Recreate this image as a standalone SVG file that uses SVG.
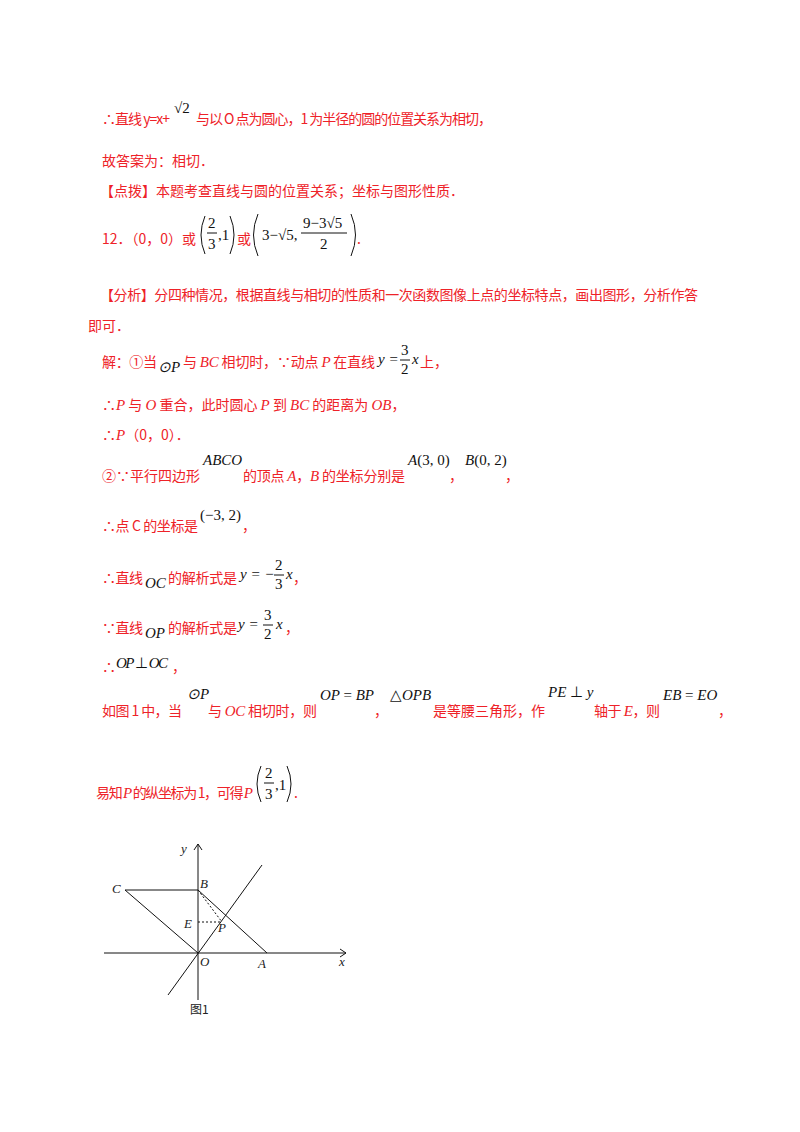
<svg xmlns="http://www.w3.org/2000/svg" width="800" height="1132" viewBox="0 0 800 1132">
<style>
.r{fill:#ee2228;font-family:"Noto Sans CJK SC","Liberation Sans",sans-serif;font-size:14px}
.m{fill:#111;font-family:"Liberation Serif",serif;font-size:15px;font-style:italic}
.n{fill:#111;font-family:"Liberation Serif",serif;font-size:15px}
.ri{fill:#ee2228;font-family:"Liberation Serif",serif;font-size:15px;font-style:italic}
.b{stroke:#111;stroke-width:1;fill:none}
.f{fill:#222;font-family:"Liberation Serif",serif;font-size:13px;font-style:italic}
</style>
<rect width="800" height="1132" fill="#fff"/>
<g id="text">
<text class="r" x="102" y="124" textLength="68">∴直线 y=x+</text>
<text class="n" x="174" y="113">√2</text>
<text class="r" x="196" y="124" textLength="296">与以 O 点为圆心，1 为半径的圆的位置关系为相切，</text>
<text class="r" x="102" y="166">故答案为：相切．</text>
<text class="r" x="100" y="196">【点拨】本题考查直线与圆的位置关系；坐标与图形性质．</text>
<text class="r" x="102" y="244" textLength="94">12．（0，0）或</text>
<path class="b" d="M205 216 Q197 235 205 254 M230 216 Q238 235 230 254 M258 214 Q249 235 258 256 M351 214 Q360 235 351 256"/>
<text class="n" x="208" y="228">2</text><line class="b" x1="207" y1="233" x2="217" y2="233"/><text class="n" x="208" y="249">3</text><text class="n" x="218" y="240">,1</text>
<text class="r" x="237" y="244">或</text>
<text class="n" x="262" y="240">3−√5,</text>
<text class="n" x="303" y="228">9−3√5</text><line class="b" x1="301" y1="233" x2="347" y2="233"/><text class="n" x="320" y="249">2</text>
<text class="r" x="357" y="244">.</text>
<text class="r" x="100" y="300" textLength="598">【分析】分四种情况，根据直线与相切的性质和一次函数图像上点的坐标特点，画出图形，分析作答</text>
<text class="r" x="88" y="331">即可．</text>
<text class="r" x="102" y="367" textLength="55">解：①当</text>
<text class="m" x="158" y="372">⊙P</text>
<text class="r" x="183" y="367" textLength="192">与 <tspan class="ri">BC</tspan> 相切时，∵动点 <tspan class="ri">P</tspan> 在直线</text>
<text class="m" x="378" y="364">y = </text><text class="n" x="401" y="355">3</text><line class="b" x1="400" y1="360" x2="410" y2="360"/><text class="n" x="401" y="374">2</text><text class="m" x="412" y="364">x</text>
<text class="r" x="420" y="367">上，</text>
<text class="r" x="102" y="410">∴<tspan class="ri">P</tspan> 与 <tspan class="ri">O</tspan> 重合，此时圆心 <tspan class="ri">P</tspan> 到 <tspan class="ri">BC</tspan> 的距离为 <tspan class="ri">OB</tspan>，</text>
<text class="r" x="102" y="440">∴<tspan class="ri">P</tspan>（0，0）．</text>
<text class="r" x="102" y="481" textLength="98">②∵平行四边形</text>
<text class="m" x="203" y="465">ABCO</text>
<text class="r" x="243" y="481" textLength="162">的顶点 <tspan class="ri">A</tspan>，<tspan class="ri">B</tspan> 的坐标分别是</text>
<text class="m" x="408" y="465">A<tspan font-style="normal">(3, 0)</tspan></text>
<text class="r" x="449" y="481">，</text>
<text class="m" x="465" y="465">B<tspan font-style="normal">(0, 2)</tspan></text>
<text class="r" x="505" y="481">，</text>
<text class="r" x="102" y="531" textLength="96">∴点 C 的坐标是</text>
<text class="n" x="200" y="520">(−3, 2)</text>
<text class="r" x="242" y="531">，</text>
<text class="r" x="102" y="583" textLength="41">∴直线</text><text class="m" x="145" y="588">OC</text>
<text class="r" x="168" y="583" textLength="69">的解析式是</text>
<text class="m" x="240" y="579">y = −</text><text class="n" x="275" y="570">2</text><line class="b" x1="274" y1="575" x2="284" y2="575"/><text class="n" x="275" y="589">3</text><text class="m" x="286" y="579">x</text>
<text class="r" x="293" y="583">，</text>
<text class="r" x="102" y="633" textLength="41">∵直线</text><text class="m" x="145" y="638">OP</text>
<text class="r" x="168" y="633" textLength="69">的解析式是</text>
<text class="m" x="238" y="629">y = </text><text class="n" x="264" y="620">3</text><line class="b" x1="263" y1="625" x2="273" y2="625"/><text class="n" x="264" y="639">2</text><text class="m" x="276" y="629">x</text>
<text class="r" x="285" y="633">，</text>
<text class="r" x="102" y="672">∴</text><text class="m" x="116" y="668" font-size="14" textLength="52">OP <tspan font-style="normal">⊥</tspan> OC</text><text class="r" x="172" y="672">，</text>
<text class="r" x="102" y="716" textLength="80">如图 1 中，当</text>
<text class="m" x="187" y="699">⊙P</text>
<text class="r" x="208" y="716" textLength="109">与 <tspan class="ri">OC</tspan> 相切时，则</text>
<text class="m" x="320" y="700">OP <tspan font-style="normal">=</tspan> BP</text>
<text class="r" x="374" y="716">，</text>
<text class="m" x="390" y="700"><tspan font-style="normal">△</tspan>OPB</text>
<text class="r" x="433" y="716" textLength="112">是等腰三角形，作</text>
<text class="m" x="548" y="697">PE <tspan font-style="normal">⊥</tspan> y</text>
<text class="r" x="594" y="716" textLength="66">轴于 <tspan class="ri">E</tspan>，则</text>
<text class="m" x="663" y="700">EB <tspan font-style="normal">=</tspan> EO</text>
<text class="r" x="718" y="716">，</text>
<text class="r" x="96" y="798" textLength="157">易知 <tspan class="ri">P</tspan> 的纵坐标为 1，可得 <tspan class="ri">P</tspan></text>
<path class="b" d="M261 766 Q253 784 261 802 M287 766 Q295 784 287 802"/>
<text class="n" x="265" y="778">2</text><line class="b" x1="264" y1="783" x2="274" y2="783"/><text class="n" x="265" y="799">3</text><text class="n" x="275" y="790">,1</text>
<text class="r" x="294" y="798">.</text>
</g>
<g id="figure">
<line class="b" x1="104" y1="953" x2="346" y2="953"/>
<path class="b" d="M340 949 L346 953 L340 957"/>
<line class="b" x1="198" y1="1000" x2="198" y2="844"/>
<path class="b" d="M194 850 L198 844 L202 850"/>
<line class="b" x1="125" y1="890" x2="198" y2="890"/>
<line class="b" x1="125" y1="890" x2="198" y2="953"/>
<line class="b" x1="198" y1="890" x2="267" y2="953"/>
<line class="b" x1="168" y1="995" x2="262" y2="865"/>
<line class="b" x1="198" y1="922" x2="222" y2="922" stroke-dasharray="2,2"/>
<line class="b" x1="198" y1="890" x2="222" y2="922" stroke-dasharray="2,2"/>
<text class="f" x="181" y="853">y</text>
<text class="f" x="200" y="888">B</text>
<text class="f" x="112" y="893">C</text>
<text class="f" x="184" y="928">E</text>
<text class="f" x="218" y="932">P</text>
<text class="f" x="200" y="966">O</text>
<text class="f" x="258" y="968">A</text>
<text class="f" x="339" y="966">x</text>
<text x="190" y="1014" style="fill:#222;font-family:'Noto Sans CJK SC',sans-serif;font-size:12px">图1</text>
</g>
</svg>
